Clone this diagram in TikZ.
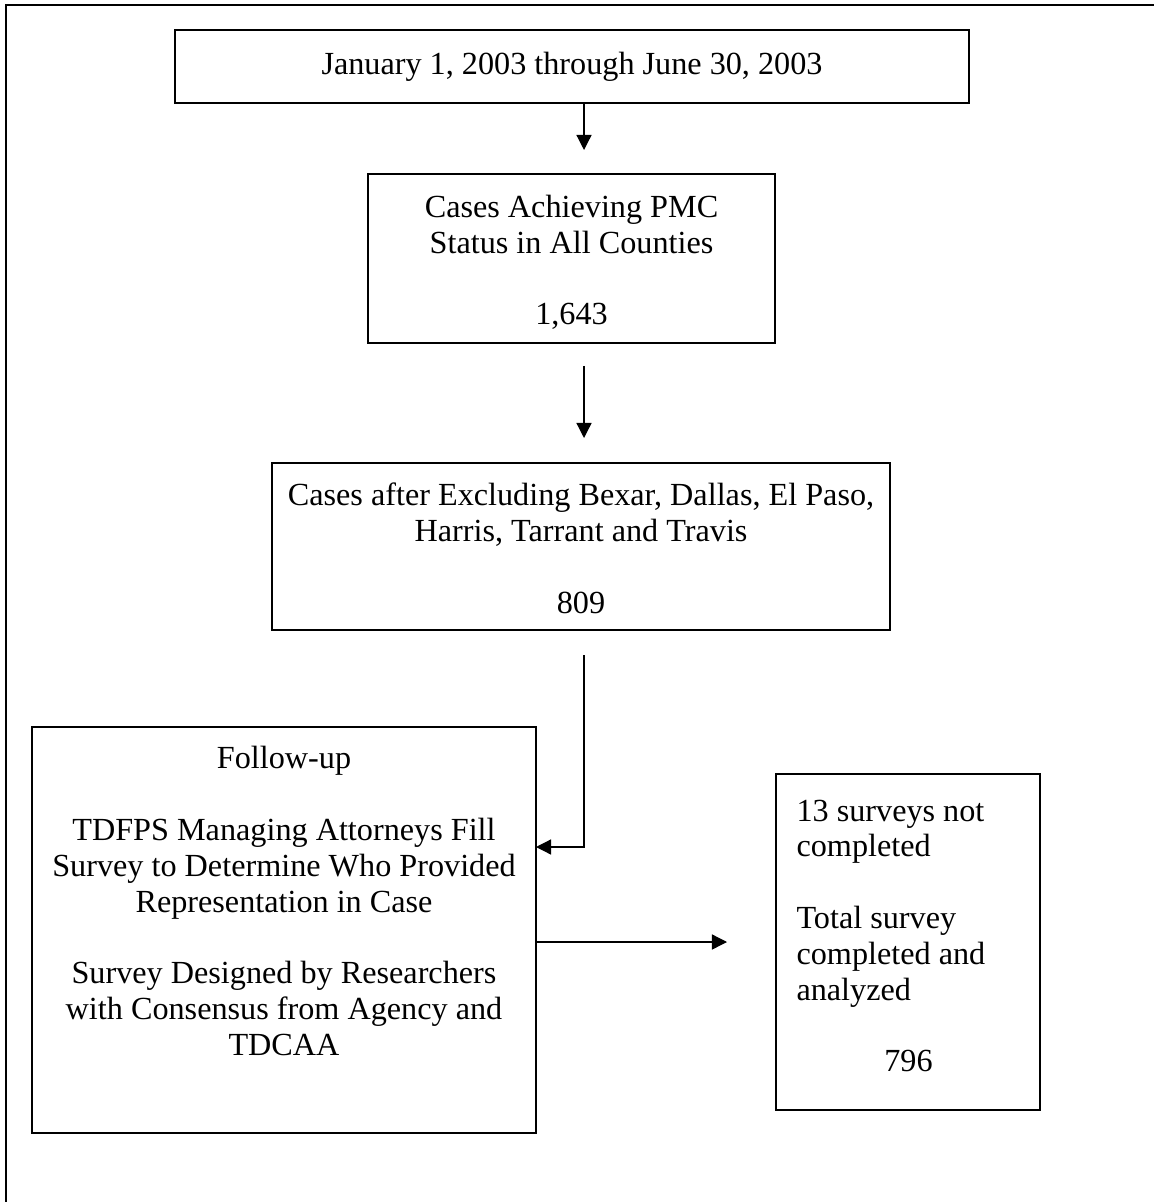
\documentclass[tikz,border=0pt]{standalone}
\usepackage{fontspec}
\setmainfont{Liberation Serif}
\usetikzlibrary{arrows.meta}
\newcommand{\unid}{0.385pt}

\begin{document}
\begin{tikzpicture}[x=0.385pt, y=-0.385pt,
    caixa/.style={draw, line width=0.5pt, inner sep=0pt},
    texto/.style={align=center, inner sep=0pt, font=\fontsize{12.4}{13.8}\selectfont},
    seta/.style={line width=0.5pt, -{Triangle[length=5.8pt, width=5.8pt]}}]
  \useasboundingbox (0,0) rectangle (1154,1202);
  % moldura
  \draw[line width=0.8pt] (6,1202) -- (6,5) -- (1154,5);
  % periodo
  \node[caixa, texto, minimum width=794*\unid, minimum height=73*\unid] (periodo) at (572,66.5)
    {January 1, 2003 through June 30, 2003};
  % casos PMC
  \node[caixa, minimum width=407*\unid, minimum height=169*\unid] (pmc) at (571.5,258.5) {};
  \node[texto] (pmc-txt) at (571.5,262.5)
    {Cases Achieving PMC\\ Status in All Counties\\[13.8pt] 1,643};
  % casos sem os condados grandes
  \node[caixa, minimum width=618*\unid, minimum height=167*\unid] (excl) at (581,546.5) {};
  \node[texto] (excl-txt) at (581,548.5)
    {Cases after Excluding Bexar, Dallas, El Paso,\\ Harris, Tarrant and Travis\\[13.8pt] 809};
  % follow-up
  \node[caixa, minimum width=504*\unid, minimum height=406*\unid] (follow) at (284,930) {};
  \node[texto] (follow-txt) at (284,901)
    {Follow-up\\[13.8pt]
     TDFPS Managing Attorneys Fill\\ Survey to Determine Who Provided\\ Representation in Case\\[13.8pt]
     Survey Designed by Researchers\\ with Consensus from Agency and\\ TDCAA};
  % resultado
  \node[caixa, minimum width=264*\unid, minimum height=336*\unid] (result) at (908,942) {};
  \node[texto, align=flush left, text width=224*\unid, anchor=west] (result-txt) at (796,936)
    {13 surveys not\\ completed\\[13.8pt]
     Total survey\\ completed and\\ analyzed\\[13.8pt]
     \makebox[\linewidth][c]{796}};
  % setas
  \coordinate (a1) at (584,150);
  \coordinate (a2i) at (584,366);
  \coordinate (a2f) at (584,438);
  \coordinate (a3i) at (584,655);
  \coordinate (a3f) at (536,847);
  \coordinate (a4f) at (727,942);
  \draw[seta] (a1 |- periodo.south) -- (a1);
  \draw[seta] (a2i) -- (a2f);
  \draw[seta] (a3i) |- (a3f);
  \draw[seta] (follow.east |- a4f) -- (a4f);
\end{tikzpicture}
\end{document}
